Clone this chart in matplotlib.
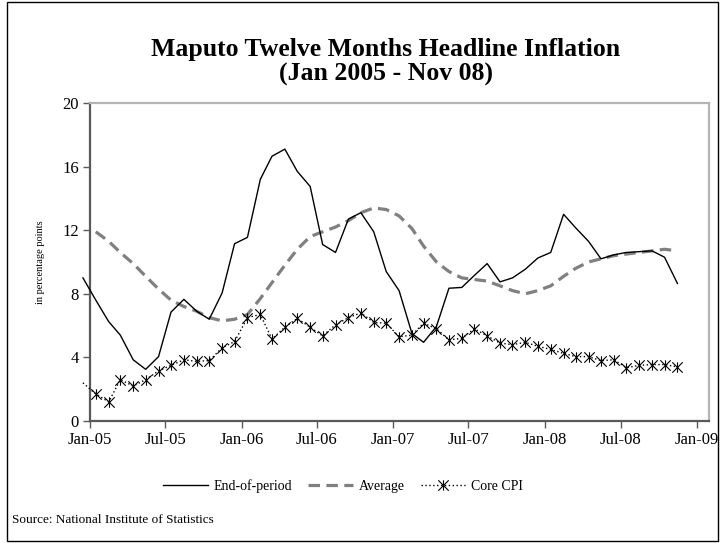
import numpy as np
import pandas as pd
import matplotlib
matplotlib.use("Agg")
import matplotlib.pyplot as plt
import matplotlib.dates as mdates
from matplotlib.path import Path
from matplotlib.patches import Rectangle

# ---- data (Dec-04 .. Nov-08, monthly) ----
months = pd.date_range("2004-12-01", "2008-11-01", freq="MS")
end_of_period = [9.0, 7.6, 6.25, 5.4, 3.85, 3.25, 4.05, 6.85, 7.65, 6.9, 6.4, 8.05,
                 11.15, 11.55, 15.2, 16.65, 17.1, 15.7, 14.75, 11.1, 10.6, 12.7, 13.1, 11.9,
                 9.4, 8.2, 5.5, 4.95, 5.95, 8.35, 8.4, 9.15, 9.9, 8.75, 9.0, 9.55,
                 10.25, 10.6, 13.0, 12.15, 11.3, 10.2, 10.45, 10.6, 10.65, 10.7, 10.3, 8.65]
average = [np.nan, 11.9, 11.3, 10.6, 9.9, 9.1, 8.3, 7.6, 7.2, 6.9, 6.5, 6.3,
           6.4, 6.7, 7.7, 8.7, 9.8, 10.8, 11.6, 11.9, 12.2, 12.6, 13.1, 13.4,
           13.3, 12.9, 12.1, 11.0, 10.0, 9.4, 9.0, 8.9, 8.8, 8.5, 8.2, 8.0,
           8.2, 8.5, 9.1, 9.6, 10.0, 10.2, 10.4, 10.5, 10.6, 10.7, 10.8, 10.7]
core_cpi = [2.4, 1.7, 1.2, 2.6, 2.2, 2.6, 3.15, 3.5, 3.85, 3.75, 3.8, 4.6,
            5.0, 6.5, 6.7, 5.15, 5.9, 6.45, 5.9, 5.35, 6.05, 6.5, 6.8, 6.2,
            6.15, 5.3, 5.4, 6.15, 5.8, 5.1, 5.2, 5.8, 5.35, 4.9, 4.8, 4.95,
            4.7, 4.5, 4.25, 4.05, 4.05, 3.8, 3.85, 3.35, 3.5, 3.55, 3.55, 3.4]
series_labels = ["End-of-period", "Average", "Core CPI"]
yticks = [0, 4, 8, 12, 16, 20]
title = "Maputo Twelve Months Headline Inflation\n(Jan 2005 - Nov 08)"
ylabel = "in percentage points"
source = "Source: National Institute of Statistics"

# ---- style ----
plt.rcParams["font.family"] = ["Liberation Serif", "DejaVu Serif"]
W, H = 725, 543
fig = plt.figure(figsize=(W / 100, H / 100), dpi=100)
ax = fig.add_axes([90 / W, 1 - 421 / H, (709 - 90) / W, (421 - 103) / H])

x = months + pd.Timedelta(days=14)

star = Path([(0, -1), (0, 1), (-1, -1), (1, 1), (-1, 1), (1, -1)],
            [Path.MOVETO, Path.LINETO, Path.MOVETO, Path.LINETO, Path.MOVETO, Path.LINETO])

l1, = ax.plot(x, end_of_period, color="black", lw=1.0, clip_on=False, zorder=3,
              label=series_labels[0])
l2, = ax.plot(x, average, color="#808080", lw=2.3, dashes=(3.6, 2.0), clip_on=False,
              zorder=2, label=series_labels[1])
l3, = ax.plot(x, core_cpi, color="black", lw=1.0, linestyle=(0, (1, 1.8)),
              marker=star, markersize=7.5, markeredgewidth=0.8, markerfacecolor="none",
              markeredgecolor="black", markevery=slice(1, None), clip_on=False, zorder=4,
              label=series_labels[2])

ax.set_ylim(0, 20)
ax.set_yticks(yticks)
ax.set_xlim(pd.Timestamp("2005-01-01"), pd.Timestamp("2009-01-30"))
ax.xaxis.set_major_locator(mdates.MonthLocator(bymonth=[1, 7]))
ax.xaxis.set_major_formatter(mdates.DateFormatter("%b-%y"))

for s in ["left", "bottom"]:
    ax.spines[s].set_color("#5a5a5a")
    ax.spines[s].set_linewidth(1.6)
for s in ["top", "right"]:
    ax.spines[s].set_color("#b4b4b4")
    ax.spines[s].set_linewidth(1.6)
ax.tick_params(axis="both", direction="out", length=5, width=1.0, color="#5a5a5a",
               labelsize=12, labelcolor="black", pad=3)

ax.set_ylabel(ylabel, fontsize=7.5, labelpad=12)
fig.text(0.532, 1 - 62 / H, title, ha="center", va="center", fontsize=18.5,
         fontweight="bold", linespacing=1.12)

fig.legend(handles=[l1, l2, l3], labels=series_labels, loc="center",
           bbox_to_anchor=(343 / W, 1 - 486 / H), ncol=3, frameon=False, fontsize=10,
           handlelength=3.2, columnspacing=1.2, handletextpad=0.4)

fig.text(12 / W, 1 - 520 / H, source, ha="left", va="center", fontsize=9.5)

fig.patches.append(Rectangle((7 / W, 2 / H), (718 - 7) / W, (541 - 2) / H,
                             transform=fig.transFigure, fill=False, edgecolor="black",
                             lw=1.0))

fig.savefig("out.png", dpi=100)
